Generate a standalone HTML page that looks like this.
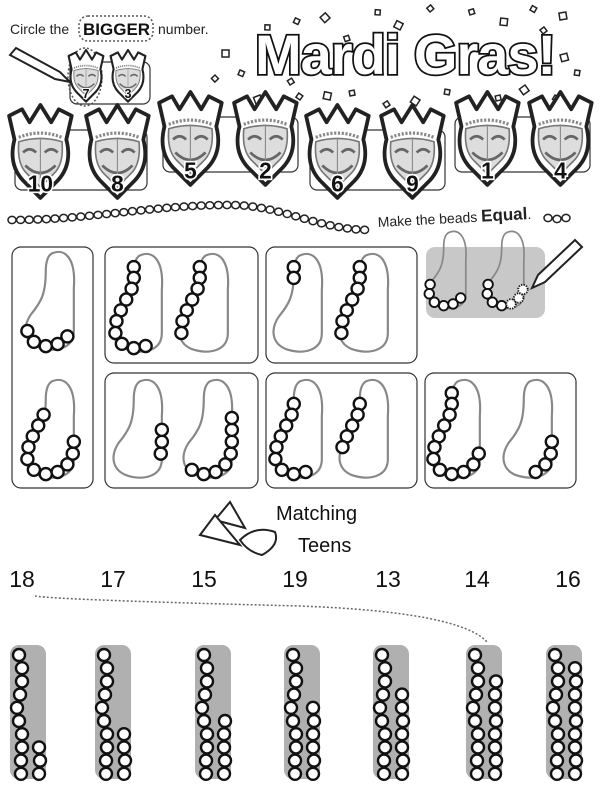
<!DOCTYPE html>
<html><head><meta charset="utf-8"><style>
html,body{margin:0;padding:0;background:#fff;}
body{width:600px;height:793px;overflow:hidden;position:relative;font-family:"Liberation Sans",sans-serif;}
svg{position:absolute;left:0;top:0;}
</style></head><body>
<svg id="s" width="600" height="793" viewBox="0 0 600 793" xmlns="http://www.w3.org/2000/svg">
<defs>
<g id="mask">
<path d="M6,32 L1,10 L13,4 L20,16 L30,0 L40,16 L47,4 L59,10 L54,32 Q60,55 46,70 L30,86 L14,70 Q0,55 6,32Z" fill="#fff" stroke="#222" stroke-width="3.5" stroke-linejoin="round"/>
<path d="M10,30 Q30,22 50,30" fill="none" stroke="#888" stroke-width="3" stroke-dasharray="2 1.5"/>
<path d="M10,34 Q8,55 18,64 L30,76 L42,64 Q52,55 50,34 Q30,28 10,34Z" fill="#ddd" stroke="#777" stroke-width="1.5"/>
<path d="M14,44 Q20,38 26,44 M34,44 Q40,38 46,44 M16,56 Q30,70 44,56" fill="none" stroke="#666" stroke-width="2.5"/>
<line x1="30" y1="30" x2="30" y2="76" stroke="#888" stroke-width="1"/>
</g>
<path id="bean" d="M28,3 C40,-2 50,8 48,35 L48,75 C48,92 30,95 15,90 C2,85 0,72 8,60 C18,48 22,40 22,20 C22,10 24,5 28,3Z" fill="none" stroke="#888" stroke-width="2"/>
</defs>
<text x="10" y="34" font-size="14" fill="#222">Circle the</text>
<rect x="79" y="16" width="74" height="25" rx="9" fill="none" stroke="#555" stroke-width="1.5" stroke-dasharray="2 2"/>
<text x="83" y="35" font-size="17" font-weight="bold" fill="#111">BIGGER</text>
<text x="158" y="34" font-size="14" fill="#222">number.</text>
<text x="255" y="74" font-size="56" font-weight="bold" fill="#fff" stroke="#111" stroke-width="3.5" font-family="Liberation Sans" letter-spacing="-1" paint-order="stroke">Mardi Gras!</text>
<g id="conf" fill="#fff" stroke="#222" stroke-width="1.5"></g>
<g id="masks"></g>
<g id="beadrow"></g>
<text x="378" y="227" font-size="14" fill="#222" transform="rotate(-3 378 227)">Make the beads <tspan font-weight="bold" font-size="17">Equal</tspan>.</text>
<g id="boxes" fill="none" stroke="#333" stroke-width="1.2"></g>
<g id="bags"></g>
<text x="276" y="520" font-size="20" fill="#111">Matching</text>
<text x="298" y="552" font-size="20" fill="#111">Teens</text>
<g fill="#fff" stroke="#222" stroke-width="2">
<path d="M215,520 L230,502 L245,528 Z"/><path d="M200,535 L215,515 L240,545 Z"/>
<path d="M240,540 Q255,525 275,532 Q280,545 262,555 Q248,552 240,540Z"/>
</g>
<g id="nums" font-size="23" fill="#111"></g>
<path d="M35,596 Q60,600 300,606 Q460,612 487,642" fill="none" stroke="#666" stroke-width="1.5" stroke-dasharray="2 2"/>
<g id="bars"></g>
<g fill="#fff" stroke="#222" stroke-width="2"><path d="M10,55 L16,48 L60,72 L70,82 L55,79 Z"/></g>
</svg>
<script>
var NS="http://www.w3.org/2000/svg";
function el(p,t,a){var e=document.createElementNS(NS,t);for(var k in a)e.setAttribute(k,a[k]);p.appendChild(e);return e;}
var $=function(i){return document.getElementById(i);};
var cf=[[222,50],[240,70],[215,75],[260,95],[270,25],[300,20],[330,18],[350,40],[380,15],[400,30],[430,12],[470,15],[500,25],[530,10],[540,30],[560,55],[575,70],[555,95],[525,85],[500,95],[450,90],[420,100],[390,105],[355,95],[330,100],[300,100],[290,85],[560,20]];
cf.forEach(function(c,i){el($("conf"),"rect",{x:c[0],y:c[1],width:i%3?5:7,height:i%3?5:7,transform:"rotate("+(i*23)+" "+c[0]+" "+c[1]+")"});});
var mb=$("masks");
[[15,130,132,60],[163,117,135,55],[310,130,135,60],[455,117,135,55],[70,62,80,42]].forEach(function(b){el(mb,"rect",{x:b[0],y:b[1],width:b[2],height:b[3],rx:7,fill:"none",stroke:"#333","stroke-width":1.2});});
el(mb,"ellipse",{cx:85,cy:77,rx:17,ry:29,fill:"none",stroke:"#555","stroke-dasharray":"2 2","stroke-width":1.5});
function mask(x,y,s,n){var g=el(mb,"g",{transform:"translate("+x+","+y+") scale("+s+")"});el(g,"use",{href:"#mask"});
var t=el(g,"text",{x:30,y:80,"text-anchor":"middle","font-size":21,"font-weight":"bold",fill:"#111",stroke:"#fff","stroke-width":3,"paint-order":"stroke"});t.textContent=n;}
mask(68,50,0.6,"7");mask(110,50,0.6,"3");
[[8,105,"10"],[85,105,"8"],[158,92,"5"],[233,92,"2"],[305,105,"6"],[380,105,"9"],[455,92,"1"],[528,92,"4"]].forEach(function(m){mask(m[0],m[1],1.08,m[2]);});
var br=$("beadrow");
for(var i=0;i<42;i++){var x=12+i*8.6;
var y=(x<230)? 220-15*Math.pow(Math.sin((x-12)/(218)*Math.PI/2),2) : 205+25*Math.pow(Math.sin((x-230)/(140)*Math.PI/2),2);
el(br,"ellipse",{cx:x,cy:y,rx:4,ry:3.6,fill:"#fff",stroke:"#222","stroke-width":1.5});}
[[548,218],[557,219],[566,218]].forEach(function(p){el(br,"ellipse",{cx:p[0],cy:p[1],rx:4,ry:3.6,fill:"#fff",stroke:"#222","stroke-width":1.5});});
var bx=$("boxes");
el(bx,"rect",{x:426,y:247,width:119,height:71,rx:9,fill:"#c8c8c8",stroke:"none"});
[[12,247,81,241],[105,247,153,116],[266,247,151,116],[105,373,153,115],[266,373,151,115],[425,373,151,115]].forEach(function(b){el(bx,"rect",{x:b[0],y:b[1],width:b[2],height:b[3],rx:9});});
var U=[[22,14],[22,24],[20,34],[15,44],[10,54],[6,64],[5,75],[11,85],[22,89],[33,87],[42,80],[47,70],[48,59],[48,48],[48,37]];
var bg=$("bags");
function bag(x,y,st,n,s,dot){s=s||1.08;var g=el(bg,"g",{transform:"translate("+x+","+y+") scale("+s+")"});el(g,"use",{href:"#bean"});
for(var i=st;i<st+n;i++){var p=U[i];el(g,"circle",{cx:p[0],cy:p[1],r:5.6,fill:"#fff",stroke:"#111","stroke-width":2.2,"stroke-dasharray":(dot&&i>=st+n-dot)?"1.5 1.5":"none"});}}
bag(22,250,6,5);bag(22,378,2,11);
bag(110,252,0,10);bag(176,252,0,7);
bag(270,252,0,2);bag(336,252,0,7);
bag(425,230,5,6,0.85);bag(483,230,5,7,0.85,3);
bag(110,378,11,3);bag(180,378,7,8);
bag(270,378,1,9);bag(336,378,1,5);
bag(428,378,0,12);bag(500,378,9,4);
el(bg,"path",{d:"M538,275 L575,240 L582,247 L545,282 L532,288 Z",fill:"#fff",stroke:"#222","stroke-width":2});
var nm=$("nums");
[[22,"18"],[113,"17"],[204,"15"],[295,"19"],[388,"13"],[477,"14"],[568,"16"]].forEach(function(n){var t=el(nm,"text",{x:n[0],y:587,"text-anchor":"middle"});t.textContent=n[1];});
var bs=$("bars");var wig=[0,3,3,1,-2,0,3,3,2,2];
[[10,3],[95,4],[195,5],[284,6],[373,7],[466,8],[546,9]].forEach(function(b){var x=b[0];
el(bs,"rect",{x:x,y:645,width:36,height:134,rx:9,fill:"#b0b0b0"});
for(var i=0;i<10;i++)el(bs,"circle",{cx:x+9+wig[i],cy:655+i*13.2,r:6,fill:"#fff",stroke:"#111","stroke-width":2.4});
for(var j=0;j<b[1];j++){var k=9-j;el(bs,"circle",{cx:x+29+(j%3==1?1:0),cy:655+k*13.2,r:6,fill:"#fff",stroke:"#111","stroke-width":2.4});}
});
</script>
</body></html>
